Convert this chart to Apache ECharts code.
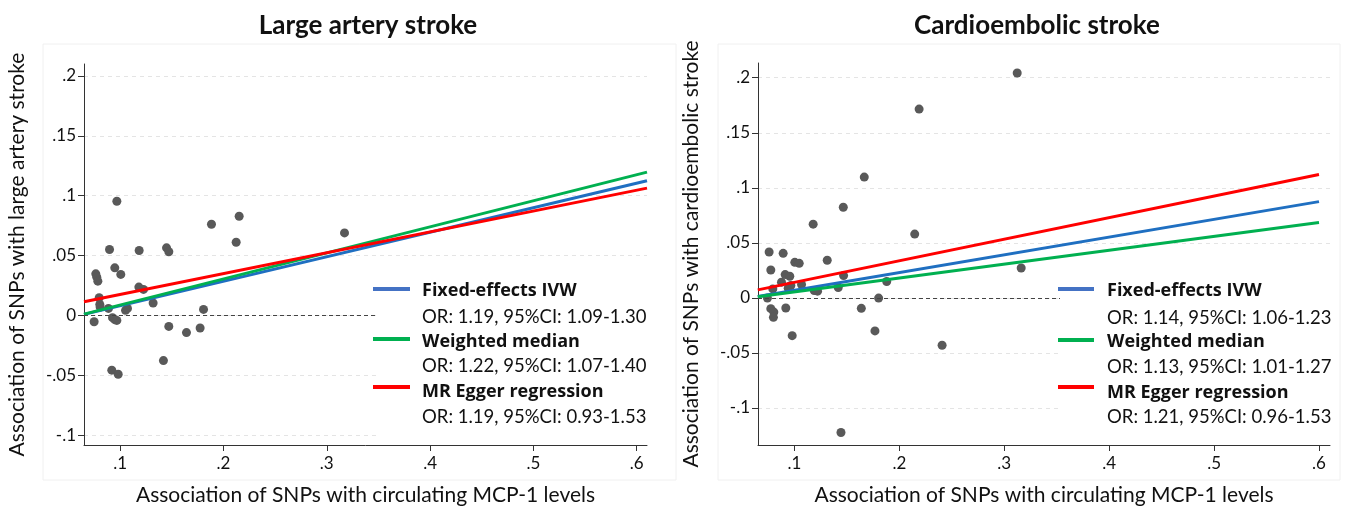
<!DOCTYPE html>
<html><head><meta charset="utf-8">
<script src="https://cdn.jsdelivr.net/npm/echarts@6/dist/echarts.min.js"></script>
<style>html,body{margin:0;padding:0;background:#fff}#c{width:1347px;height:511px}</style>
</head><body><div id="c"></div>
<script>
// ---------- data ----------
const panelTitles = ['Large artery stroke', 'Cardioembolic stroke'];
const xTitle = 'Association of SNPs with circulating MCP-1 levels';
const yTitles = ['Association of SNPs with large artery stroke', 'Association of SNPs with cardioembolic stroke'];

const xTicks = [0.1, 0.2, 0.3, 0.4, 0.5, 0.6];
const xTickLabels = ['.1', '.2', '.3', '.4', '.5', '.6'];
const yTicks = [-0.1, -0.05, 0, 0.05, 0.1, 0.15, 0.2];
const yTickLabels = ['-.1', '-.05', '0', '.05', '.1', '.15', '.2'];

// Large artery stroke SNP associations
const lasX = [0.0748,0.0764,0.0774,0.0784,0.0797,0.0803,0.0806,0.0887,0.0897,0.0919,0.0926,0.0948,0.0948,0.0968,0.0968,0.0981,0.1006,0.1052,0.1071,0.1184,0.1181,0.1226,0.1319,0.1419,0.1449,0.1471,0.1471,0.1642,0.1774,0.1807,0.1884,0.2123,0.2152,0.3172];
const lasY = [-0.0053,0.0347,0.0319,0.0286,0.0147,0.0092,0.0069,0.0058,0.0550,-0.0458,-0.0019,0.0397,-0.0036,0.0953,-0.0042,-0.0492,0.0342,0.0042,0.0058,0.0542,0.0236,0.0217,0.0103,-0.0378,0.0564,0.0531,-0.0092,-0.0144,-0.0106,0.0050,0.0761,0.0611,0.0828,0.0689];

// Cardioembolic stroke SNP associations
const ceX = [0.0742,0.0758,0.0774,0.0774,0.0793,0.0803,0.0799,0.0876,0.0892,0.0911,0.0917,0.0940,0.0955,0.0965,0.0978,0.1003,0.1045,0.1067,0.1178,0.1188,0.1220,0.1312,0.1417,0.1443,0.1465,0.1468,0.1637,0.1665,0.1767,0.1802,0.1879,0.2146,0.2188,0.2407,0.3123,0.3161];
const ceY = [-0.0003,0.0416,0.0253,-0.0099,0.0081,-0.0130,-0.0178,0.0142,0.0404,0.0211,-0.0093,0.0087,0.0196,0.0112,-0.0344,0.0322,0.0313,0.0121,0.0669,0.0066,0.0060,0.0341,0.0093,-0.1224,0.0823,0.0202,-0.0096,0.1097,-0.0301,-0.0003,0.0148,0.0579,0.1715,-0.0431,0.2043,0.0271];

// fitted lines (endpoints)
const lasLineX = [0.065, 0.61];
const lasIVW = [0.0008, 0.1125];
const lasWM = [0.0010, 0.1197];
const lasEgger = [0.0113, 0.1063];
const ceLineX = [0.065, 0.60];
const ceIVW = [0.0012, 0.0874];
const ceWM = [0.0010, 0.0684];
const ceEgger = [0.0072, 0.1121];

const methodNames = ['Fixed-effects IVW', 'Weighted median', 'MR Egger regression'];
const lasOR = ['OR: 1.19, 95%CI: 1.09-1.30', 'OR: 1.22, 95%CI: 1.07-1.40', 'OR: 1.19, 95%CI: 0.93-1.53'];
const ceOR = ['OR: 1.14, 95%CI: 1.06-1.23', 'OR: 1.13, 95%CI: 1.01-1.27', 'OR: 1.21, 95%CI: 0.96-1.53'];

// ---------- styles ----------
const FONT = 'Lato';
const lineColors = ['#1f6fc1', '#00b050', '#ff0000'];
const keyColors = ['#4472c4', '#00b050', '#ff0000'];

function zip(xs, ys) { return xs.map((x, i) => [x, ys[i]]); }
function fmtX(v) { const i = xTicks.findIndex(t => Math.abs(t - v) < 1e-9); return i >= 0 ? xTickLabels[i] : ''; }
function fmtY(v) { const i = yTicks.findIndex(t => Math.abs(t - v) < 1e-9); return i >= 0 ? yTickLabels[i] : ''; }

const grids = [
  { left: 84, top: 64, width: 563, height: 381 },
  { left: 758, top: 63, width: 572, height: 384 }
];
const xRanges = [[0.065, 0.61], [0.0652, 0.6105]];
const yRanges = [[-0.1083, 0.21], [-0.1338, 0.2134]];

function xAxis(i) {
  return {
    gridIndex: i, type: 'value', min: xRanges[i][0], max: xRanges[i][1],
    name: xTitle, nameLocation: 'middle', nameGap: 40,
    nameTextStyle: { fontFamily: FONT, fontSize: 21, color: '#111' },
    axisLine: { show: true, onZero: false, lineStyle: { color: '#333', width: 1 } },
    axisTick: { show: true, length: 6, customValues: xTicks, lineStyle: { color: '#333' } },
    axisLabel: { customValues: xTicks, formatter: fmtX, fontFamily: FONT, fontSize: 17, color: '#111', margin: 10 },
    splitLine: { show: false }
  };
}
function yAxis(i) {
  return {
    gridIndex: i, type: 'value', min: yRanges[i][0], max: yRanges[i][1],
    name: yTitles[i], nameLocation: 'middle', nameGap: 56,
    nameTextStyle: { fontFamily: FONT, fontSize: 21, color: '#111' },
    axisLine: { show: true, onZero: false, lineStyle: { color: '#333', width: 1 } },
    axisTick: { show: true, length: 6, customValues: yTicks, lineStyle: { color: '#333' } },
    axisLabel: { customValues: yTicks, formatter: fmtY, fontFamily: FONT, fontSize: 17, color: '#111', margin: 8 },
    splitLine: { show: true, lineStyle: { color: '#e4e4e4', type: [4, 4], width: 1 } }
  };
}

function scatter(i, xs, ys) {
  return {
    type: 'scatter', xAxisIndex: i, yAxisIndex: i, data: zip(xs, ys),
    symbolSize: 9, itemStyle: { color: '#595959', opacity: 1 }, z: 3,
    markLine: {
      silent: true, symbol: 'none', label: { show: false },
      lineStyle: { color: '#444', type: [4, 3], width: 1 },
      data: [{ yAxis: 0 }]
    }
  };
}
function fitLine(i, name, xs, ys, color) {
  return {
    type: 'line', name: name, xAxisIndex: i, yAxisIndex: i, data: zip(xs, ys),
    showSymbol: false, symbol: 'none', lineStyle: { color: color, width: 3 }, z: 4
  };
}

const series = [
  scatter(0, lasX, lasY),
  fitLine(0, methodNames[0], lasLineX, lasIVW, lineColors[0]),
  fitLine(0, methodNames[1], lasLineX, lasWM, lineColors[1]),
  fitLine(0, methodNames[2], lasLineX, lasEgger, lineColors[2]),
  scatter(1, ceX, ceY),
  fitLine(1, methodNames[0], ceLineX, ceIVW, lineColors[0]),
  fitLine(1, methodNames[1], ceLineX, ceWM, lineColors[1]),
  fitLine(1, methodNames[2], ceLineX, ceEgger, lineColors[2])
];

// legend blocks drawn as graphic
function legendBlock(box, keyX0, keyX1, textX, keyYs, nameYs, orYs, orTexts) {
  const els = [{
    type: 'rect', z: 100, shape: box, style: { fill: '#fff' }, silent: true
  }];
  methodNames.forEach((n, k) => {
    els.push({ type: 'line', z: 101, shape: { x1: keyX0, y1: keyYs[k], x2: keyX1, y2: keyYs[k] },
      style: { stroke: keyColors[k], lineWidth: 4 } });
    els.push({ type: 'text', z: 101, x: textX, y: nameYs[k],
      style: { text: n, font: 'bold 18px "Open Sans"', fill: '#111', verticalAlign: 'middle', align: 'left' } });
    els.push({ type: 'text', z: 101, x: textX, y: orYs[k],
      style: { text: orTexts[k], font: '18.5px ' + FONT, fill: '#111', verticalAlign: 'middle', align: 'left' } });
  });
  return els;
}

const graphics = [
  { type: 'rect', z: -10, shape: { x: 43, y: 44, width: 633, height: 436 }, style: { fill: 'none', stroke: '#f0f0f0', lineWidth: 1 }, silent: true },
  { type: 'rect', z: -10, shape: { x: 718, y: 44, width: 622, height: 436 }, style: { fill: 'none', stroke: '#f0f0f0', lineWidth: 1 }, silent: true }
].concat(
  legendBlock({ x: 378, y: 270, width: 292, height: 170 }, 373, 410, 422, [289, 339, 387], [291, 342, 392], [317, 366, 417], lasOR),
  legendBlock({ x: 1060, y: 265, width: 278, height: 175 }, 1058, 1094, 1107, [289, 340, 387], [291, 342, 393], [318, 367, 417], ceOR)
);

const chart = echarts.init(document.getElementById('c'), null, { renderer: 'canvas' });
chart.setOption({
  animation: false,
  backgroundColor: '#fff',
  title: [
    { text: panelTitles[0], left: 363, top: 21, textAlign: 'center', textVerticalAlign: 'middle',
      textStyle: { fontFamily: FONT, fontSize: 26, fontWeight: 'bold', color: '#111' } },
    { text: panelTitles[1], left: 1032, top: 21, textAlign: 'center', textVerticalAlign: 'middle',
      textStyle: { fontFamily: FONT, fontSize: 26, fontWeight: 'bold', color: '#111' } }
  ],
  grid: grids,
  xAxis: [xAxis(0), xAxis(1)],
  yAxis: [yAxis(0), yAxis(1)],
  series: series,
  graphic: graphics
});
</script></body></html>
